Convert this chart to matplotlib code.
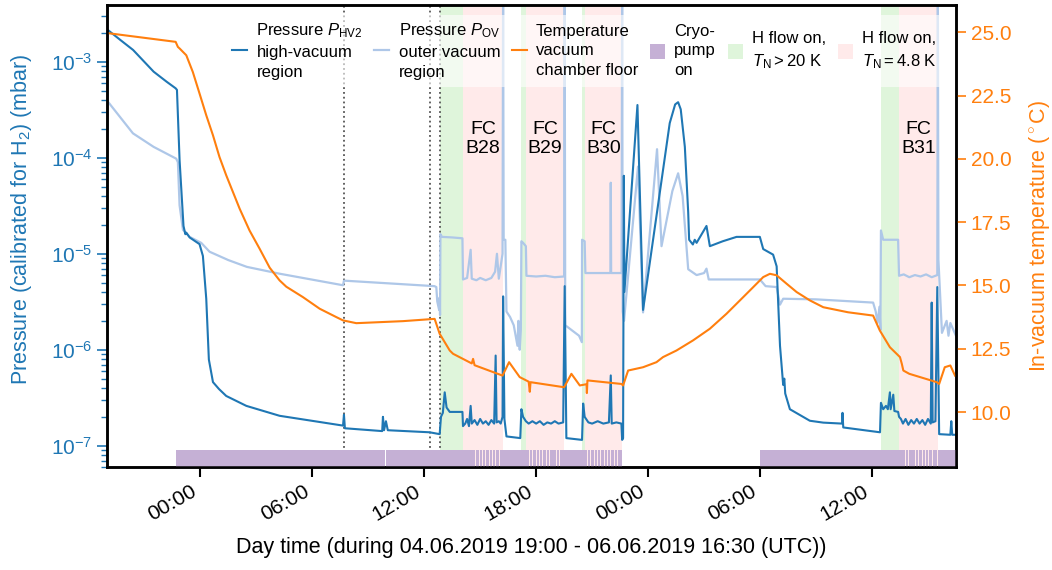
import datetime
import numpy as np
import matplotlib
matplotlib.use('Agg')
import matplotlib.pyplot as plt
import matplotlib.dates as mdates
from matplotlib.lines import Line2D
from matplotlib.patches import Patch
from matplotlib.ticker import MultipleLocator, FormatStrFormatter

FONT = 'Liberation Sans'
plt.rcParams['font.family'] = [FONT, 'DejaVu Sans']
plt.rcParams['mathtext.fontset'] = 'custom'
plt.rcParams['mathtext.rm'] = FONT
plt.rcParams['mathtext.it'] = FONT + ':italic'
plt.rcParams['mathtext.bf'] = FONT + ':bold'

C_HV = '#1f77b4'
C_OV = '#aec7e8'
C_T = '#ff7f0e'
C_CRYO = '#c5b0d5'

# (hours since 05.06.2019 00:00 UTC, pressure in mbar)
hv2_data = [
    (-5.02, 2.2e-3), (-4.3, 1.7e-3), (-3.6, 1.33e-3), (-2.5, 7.9e-4), (-1.8, 6.2e-4),
    (-1.32, 5.3e-4), (-1.25, 5.1e-4), (-1.11, 9.5e-5), (-0.90, 1.95e-5), (-0.80, 1.6e-5),
    (-0.75, 1.66e-5), (-0.57, 1.48e-5), (-0.04, 1.26e-5), (0.14, 9.5e-6), (0.32, 3.4e-6),
    (0.46, 7.9e-7), (0.68, 4.6e-7), (1.0, 3.9e-7), (1.39, 3.3e-7), (2.47, 2.6e-7),
    (4.25, 2.05e-7), (7.65, 1.62e-7), (7.70, 2.1e-7), (7.75, 1.52e-7), (9.75, 1.42e-7),
    (9.79, 2.0e-7), (9.85, 1.45e-7), (9.95, 1.8e-7), (10.05, 1.45e-7), (12.29, 1.38e-7),
    (12.83, 1.32e-7), (12.90, 2.0e-7), (13.00, 2.2e-7), (13.10, 3.6e-7), (13.20, 2.5e-7),
    (13.37, 2.25e-7), (14.05, 2.25e-7), (14.08, 1.6e-7), (14.2, 1.7e-7), (14.3, 1.9e-7),
    (14.4, 1.6e-7), (14.49, 2.6e-7), (14.55, 1.7e-7), (14.7, 1.85e-7), (14.85, 1.65e-7),
    (15.0, 1.9e-7), (15.15, 1.7e-7), (15.3, 1.8e-7), (15.45, 1.65e-7), (15.6, 1.85e-7),
    (15.75, 1.7e-7), (15.83, 8.7e-7), (15.88, 1.75e-7), (16.0, 1.8e-7), (16.1, 1.7e-7),
    (16.2, 2.0e-7), (16.23, 3.6e-6), (16.30, 1.9e-7), (16.41, 1.25e-7), (17.15, 1.2e-7),
    (17.21, 2.4e-7), (17.3, 2.0e-7), (17.45, 1.8e-7), (17.6, 1.7e-7), (17.8, 1.8e-7),
    (18.0, 1.7e-7), (18.2, 1.8e-7), (18.4, 1.65e-7), (18.6, 1.75e-7), (18.8, 1.7e-7),
    (19.0, 1.8e-7), (19.2, 1.7e-7), (19.45, 1.75e-7), (19.53, 4.6e-6), (19.62, 1.2e-7),
    (20.46, 1.15e-7), (20.52, 2.75e-7), (20.6, 2.0e-7), (20.8, 1.75e-7), (21.0, 1.7e-7),
    (21.3, 1.8e-7), (21.6, 1.7e-7), (21.9, 1.75e-7), (22.0, 5.4e-7), (22.05, 1.7e-7),
    (22.3, 1.75e-7), (22.57, 1.7e-7), (22.61, 1.15e-7), (22.66, 1.2e-7), (22.70, 6.5e-5),
    (22.73, 4.0e-6), (23.43, 3.55e-4), (23.73, 2.6e-6), (25.16, 2.3e-4), (25.45, 3.6e-4),
    (25.61, 3.8e-4), (25.75, 3.2e-4), (25.97, 1.3e-4), (26.15, 2.7e-5), (26.2, 1.4e-5),
    (26.4, 1.25e-5), (26.5, 1.4e-5), (26.6, 1.3e-5), (27.13, 1.95e-5), (27.31, 1.2e-5),
    (28.0, 1.35e-5), (28.74, 1.5e-5), (29.99, 1.5e-5), (30.17, 1.12e-5), (30.7, 9.8e-6),
    (30.89, 7.4e-6), (31.07, 1.1e-6), (31.24, 4.3e-7), (31.3, 5.0e-7), (31.35, 3.5e-7),
    (31.6, 2.4e-7), (32.67, 1.82e-7), (33.39, 1.74e-7), (34.40, 1.7e-7), (34.42, 2.2e-7),
    (34.46, 1.55e-7), (36.43, 1.38e-7), (36.48, 2.8e-7), (36.6, 2.4e-7), (36.75, 2.6e-7),
    (36.85, 2.4e-7), (36.96, 3.6e-7), (37.0, 2.4e-7), (37.14, 3.4e-7), (37.2, 2.3e-7),
    (37.40, 2.25e-7), (37.45, 2.0e-7), (37.55, 1.9e-7), (37.66, 1.7e-7), (37.8, 1.9e-7),
    (37.95, 1.65e-7), (38.1, 1.85e-7), (38.25, 1.7e-7), (38.4, 1.9e-7), (38.55, 1.7e-7),
    (38.7, 1.85e-7), (38.85, 1.65e-7), (39.0, 1.9e-7), (39.15, 1.7e-7), (39.2, 3.1e-6),
    (39.25, 1.75e-7), (39.4, 1.8e-7), (39.5, 4.5e-6), (39.6, 1.32e-7), (40.2, 1.3e-7),
    (40.25, 1.8e-7), (40.3, 1.3e-7), (40.5, 1.3e-7),
]

ov_data = [
    (-5.02, 4.0e-4), (-3.61, 1.8e-4), (-2.5, 1.3e-4), (-1.29, 9.8e-5), (-1.2, 9.0e-5),
    (-1.11, 3.2e-5), (-0.93, 1.78e-5), (-0.57, 1.5e-5), (0.05, 1.3e-5), (0.5, 1.05e-5),
    (1.5, 8.6e-6), (2.5, 7.3e-6), (4.25, 6.2e-6), (7.65, 4.7e-6), (7.70, 5.25e-6),
    (12.55, 4.6e-6), (12.65, 4.5e-6), (12.70, 3.2e-6), (12.80, 2.6e-6), (12.83, 3.5e-6),
    (12.85, 2.3e-6), (12.87, 1.6e-5), (12.95, 1.5e-5), (13.5, 1.48e-5), (14.05, 1.45e-5),
    (14.08, 5.4e-6), (14.3, 5.6e-6), (14.49, 1.1e-5), (14.55, 5.5e-6), (14.8, 5.3e-6),
    (15.0, 5.6e-6), (15.3, 5.3e-6), (15.6, 5.6e-6), (15.8, 6.5e-6), (15.9, 1.0e-5),
    (16.0, 5.5e-6), (16.2, 1.0e-5), (16.23, 5e-3), (16.26, 1.4e-5), (16.35, 1.4e-5),
    (16.41, 2.5e-6), (16.6, 2.2e-6), (16.8, 1.8e-6), (17.0, 1.1e-6), (17.05, 2.0e-6),
    (17.12, 1.0e-6), (17.18, 1.6e-6), (17.21, 1.35e-5), (17.3, 1.3e-5), (17.45, 1.2e-5),
    (17.48, 5.9e-6), (18.0, 5.8e-6), (18.5, 5.9e-6), (19.0, 5.7e-6), (19.50, 5.8e-6),
    (19.53, 5e-3), (19.56, 1.8e-6), (20.0, 1.55e-6), (20.3, 1.4e-6), (20.45, 1.2e-6),
    (20.46, 1.4e-5), (20.6, 1.35e-5), (20.64, 6.3e-6), (21.5, 6.3e-6), (21.98, 6.3e-6),
    (22.0, 5.5e-5), (22.02, 6.3e-6), (22.58, 6.3e-6), (22.61, 5e-3), (22.64, 2.5e-6),
    (22.71, 2.0e-6), (23.46, 8.1e-5), (23.73, 2.45e-6), (24.48, 1.23e-4), (24.72, 1.2e-5),
    (25.3, 4.5e-5), (25.61, 6.9e-5), (25.85, 4.0e-5), (26.15, 6.9e-6), (26.6, 6.0e-6),
    (27.0, 6.3e-6), (27.13, 7.0e-6), (27.25, 5.4e-6), (28.74, 5.4e-6), (29.99, 5.4e-6),
    (30.3, 4.6e-6), (30.89, 4.5e-6), (31.07, 2.95e-6), (31.24, 3.4e-6), (33.0, 3.35e-6),
    (36.06, 3.1e-6), (36.2, 2.5e-6), (36.3, 1.9e-6), (36.4, 2.8e-6), (36.45, 1.6e-6),
    (36.48, 1.75e-5), (36.6, 1.4e-5), (37.4, 1.4e-5), (37.45, 5.9e-6), (37.7, 6.1e-6),
    (38.0, 5.7e-6), (38.3, 6.0e-6), (38.6, 5.8e-6), (38.9, 6.1e-6), (39.2, 5.7e-6),
    (39.50, 6.0e-6), (39.53, 5e-3), (39.56, 8.7e-6), (39.75, 1.5e-6), (40.0, 2.0e-6),
    (40.1, 1.4e-6), (40.2, 1.9e-6), (40.5, 1.4e-6),
]

# (hours, degC)
temp_data = [
    (-5.02, 24.97), (-1.32, 24.62), (-1.2, 24.42), (-1.11, 24.36), (-0.75, 24.09),
    (-0.40, 23.43), (-0.04, 22.58), (0.32, 21.72), (0.68, 20.93), (1.03, 20.07),
    (1.39, 19.35), (1.75, 18.69), (2.11, 18.03), (2.64, 17.17), (3.18, 16.45), (3.72, 15.7),
    (4.25, 15.2), (4.61, 14.95), (5.5, 14.54), (6.4, 14.08), (7.29, 13.75), (7.65, 13.62),
    (8.36, 13.51), (10.86, 13.59), (12.56, 13.68), (12.83, 13.09), (13.37, 12.43),
    (13.55, 12.3), (14.55, 11.92), (14.62, 12.1), (14.70, 11.85), (16.20, 11.44),
    (16.55, 11.97), (17.12, 11.38), (17.60, 11.2), (17.66, 10.8), (17.70, 11.18),
    (19.50, 10.98), (19.89, 11.51), (20.34, 11.05), (20.70, 11.1), (20.72, 10.75),
    (20.75, 11.25), (22.57, 11.11), (22.66, 11.05), (22.93, 11.64), (23.73, 11.77),
    (24.45, 11.97), (24.8, 12.17), (25.52, 12.43), (26.41, 12.83), (27.31, 13.29),
    (28.2, 13.88), (29.1, 14.54), (29.63, 14.93), (30.17, 15.33), (30.53, 15.46),
    (30.89, 15.4), (31.42, 15.07), (31.96, 14.74), (32.67, 14.41), (33.39, 14.14),
    (34.72, 13.94), (36.06, 13.81), (36.42, 13.22), (36.96, 12.56), (37.5, 12.17),
    (37.60, 11.9), (37.68, 11.64), (38.0, 11.51), (39.47, 11.18), (39.6, 11.11),
    (39.9, 11.77), (40.2, 11.84), (40.45, 11.44),
]

hflow_warm = [(12.87, 14.08), (17.21, 17.48), (20.46, 20.64), (36.48, 37.45)]
hflow_cold = [(14.08, 16.23), (17.48, 19.48), (20.64, 22.61), (37.45, 39.55)]
fc_labels = ['FC\nB28', 'FC\nB29', 'FC\nB30', 'FC\nB31']

cryo_on = [(-1.32, 9.92), (9.97, 14.75), (14.80, 14.93), (14.98, 15.10), (15.15, 15.28),
           (15.33, 15.46), (15.51, 15.64), (15.69, 15.82), (15.87, 16.00), (16.05, 17.62),
           (17.67, 17.80), (17.85, 17.98), (18.03, 18.16), (18.21, 18.34), (18.39, 18.52),
           (18.57, 18.70), (18.75, 18.88), (18.93, 19.06), (19.11, 19.24), (19.29, 20.72),
           (20.77, 20.90), (20.95, 21.08), (21.13, 21.26), (21.31, 21.44), (21.49, 21.62),
           (21.67, 21.80), (21.85, 21.98), (22.03, 22.16), (22.21, 22.34), (22.39, 22.61),
           (29.99, 37.76), (37.81, 37.94), (37.99, 38.12), (38.17, 38.30), (38.35, 38.48),
           (38.53, 38.66), (38.71, 38.84), (38.89, 39.02), (39.07, 39.20), (39.25, 39.47),
           (39.52, 40.6)]

marker_t = [7.70, 12.29, 12.83]

base = mdates.date2num(datetime.datetime(2019, 6, 5))


def to_num(h):
    return base + np.asarray(h, dtype=float) / 24.0


hv2_t, hv2_p = zip(*hv2_data)
ov_t, ov_p = zip(*ov_data)
temp_t, temp_c = zip(*temp_data)

fig = plt.figure(figsize=(10.52, 5.70), dpi=100)
ax = fig.add_axes([0.1017, 0.1807, 0.8070, 0.8103])
ax2 = ax.twinx()

for (a, b) in hflow_warm:
    ax.axvspan(to_num(a), to_num(b), color='#98df8a', alpha=0.3, lw=0, zorder=0)
for (a, b) in hflow_cold:
    ax.axvspan(to_num(a), to_num(b), color='#ff9896', alpha=0.2, lw=0, zorder=0)
for (a, b) in cryo_on:
    ax.axvspan(to_num(a), to_num(b), ymin=0, ymax=0.037, color=C_CRYO, lw=0, zorder=3)
for m in marker_t:
    ax.axvline(to_num(m), color='#555555', ls=':', lw=1.3, zorder=1)

ax.plot(to_num(ov_t), ov_p, color=C_OV, lw=1.6, zorder=2)
ax.plot(to_num(hv2_t), hv2_p, color=C_HV, lw=1.5, zorder=2)
ax2.plot(to_num(temp_t), temp_c, color=C_T, lw=1.5)

for (a, b), lab in zip(hflow_cold, fc_labels):
    ax.text(to_num((a + b) / 2), 0.71, lab, transform=ax.get_xaxis_transform(),
            ha='center', va='center', fontsize=14, linespacing=1.15)

ax.set_yscale('log')
ax.set_ylim(6.0e-8, 3.9e-3)
ax2.set_ylim(7.83, 26.07)
ax.set_xlim(to_num(-5.0), to_num(40.5))

ax.xaxis.set_major_locator(mdates.HourLocator(byhour=[0, 6, 12, 18]))
ax.xaxis.set_major_formatter(mdates.DateFormatter('%H:%M'))
for lab in ax.get_xticklabels():
    lab.set_rotation(30)
    lab.set_ha('right')
ax.tick_params(axis='x', labelsize=15, length=7, width=1.5)
ax.tick_params(axis='y', which='both', colors=C_HV, labelsize=15)
ax.tick_params(axis='y', which='major', length=7, width=1.2)
ax.tick_params(axis='y', which='minor', length=4, width=1.0)
ax.set_xlabel('Day time (during 04.06.2019 19:00 - 06.06.2019 16:30 (UTC))',
              fontsize=15.5, labelpad=9)
ax.set_ylabel('Pressure (calibrated for H$_2$) (mbar)', color=C_HV, fontsize=15.5)
ax.yaxis.set_label_coords(-0.086, 0.535)

ax2.yaxis.set_major_locator(MultipleLocator(2.5))
ax2.yaxis.set_major_formatter(FormatStrFormatter('%.1f'))
ax2.tick_params(axis='y', colors=C_T, labelsize=15, length=7, width=1.2)
ax2.set_ylabel(r'In-vacuum temperature ($^\circ$C)', color=C_T, fontsize=15.5)
ax2.yaxis.set_label_coords(1.084, 0.5)

for a in (ax, ax2):
    for s in a.spines.values():
        s.set_linewidth(1.8)
        s.set_color('black')

handles = [
    Line2D([], [], color=C_HV, lw=1.5),
    Line2D([], [], color=C_OV, lw=1.6),
    Line2D([], [], color=C_T, lw=1.5),
    Patch(facecolor=C_CRYO, lw=0),
    Patch(facecolor='#98df8a', alpha=0.3, lw=0),
    Patch(facecolor='#ff9896', alpha=0.2, lw=0),
]
labels = [
    'Pressure $P_\\mathrm{HV2}$\nhigh-vacuum\nregion',
    'Pressure $P_\\mathrm{OV}$\nouter vacuum\nregion',
    'Temperature\nvacuum\nchamber floor',
    'Cryo-\npump\non',
    'H flow on,\n$T_\\mathrm{N} > 20$ K',
    'H flow on,\n$T_\\mathrm{N} = 4.8$ K',
]
leg = ax2.legend(handles, labels, ncol=6, loc='upper right', bbox_to_anchor=(0.997, 1.0),
                 fontsize=12, handlelength=0.9, handleheight=1.0, handletextpad=0.55,
                 columnspacing=0.7, framealpha=0.6, edgecolor='none', facecolor='white',
                 borderaxespad=0.6, labelspacing=0.2)
for t in leg.get_texts():
    t.set_linespacing(1.4)

fig.savefig('out.png', dpi=100)
